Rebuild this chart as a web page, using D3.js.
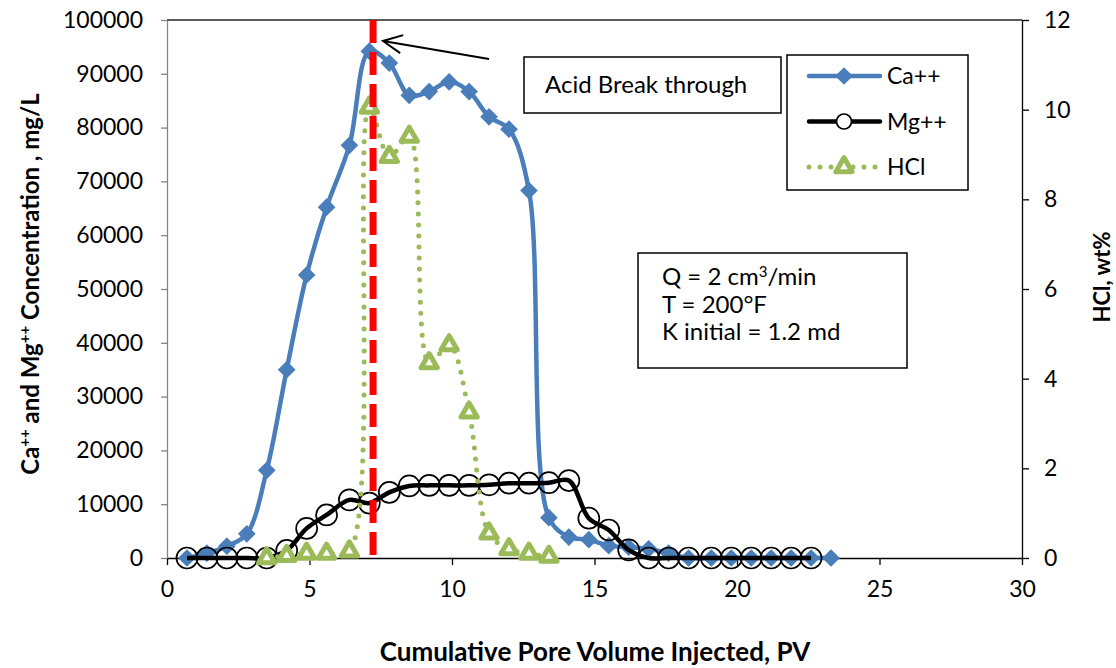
<!DOCTYPE html>
<html>
<head>
    <meta charset="utf-8" />
    <title>acid breakthrough</title>
    <script src="https://d3js.org/d3.v7.min.js"></script>
    <style>
        body { margin: 0; background: #fff; }
        text { font-family: Lato, "Open Sans", sans-serif; fill: #000; }
    </style>
</head>
<body>
    <svg class="chart"></svg>
    <script>
        // values
        var pv = [0.7, 1.4, 2.1, 2.8, 3.5, 4.2, 4.9, 5.6, 6.4, 7.1, 7.8, 8.5, 9.2, 9.9, 10.6, 11.3, 12.0,
                  12.7, 13.4, 14.1, 14.8, 15.5, 16.2, 16.9, 17.6, 18.3, 19.1, 19.8, 20.5, 21.2, 21.9, 22.6, 23.3];
        var ca = [0, 900, 2200, 4500, 16300, 35000, 52600, 65200, 76700, 94200, 92000, 86000, 86700, 88500,
                  86700, 82000, 79700, 68300, 7500, 3900, 3400, 2300, 2000, 1700, 900, 0, 0, 0, 0, 0, 0, 0, 0];
        var mg = [0, 0, 0, 0, 0, 1400, 5500, 8000, 10800, 10200, 12200, 13400, 13500, 13500, 13500, 13600,
                  13900, 13900, 14000, 14400, 7400, 5200, 1500, 0, 0, 0, 0, 0, 0, 0, 0, 0];
        var hclPv = [3.5, 4.2, 4.9, 5.6, 6.4, 7.1, 7.8, 8.5, 9.2, 9.9, 10.6, 11.3, 12.0, 12.7, 13.4];
        var hcl = [0, 0.05, 0.1, 0.1, 0.15, 10.05, 8.95, 9.4, 4.35, 4.75, 3.25, 0.55, 0.2, 0.1, 0.03];
        var breakthroughPv = 7.23;

        var xTicks = [0, 5, 10, 15, 20, 25, 30];
        var yLeftTicks = [0, 10000, 20000, 30000, 40000, 50000, 60000, 70000, 80000, 90000, 100000];
        var yRightTicks = [0, 2, 4, 6, 8, 10, 12];
        var seriesNames = ["Ca++", "Mg++", "HCl"];
        var infoLines = ["Q = 2 cm", "T = 200°F", "K initial = 1.2 md"];

        var svgWidth = 1116, svgHeight = 668;
        var margin = {top: 20, right: 94, bottom: 110, left: 167};
        var width = svgWidth - margin.left - margin.right;
        var height = svgHeight - margin.top - margin.bottom;

        var blue = "#4A7EBB", green = "#9BBB59";

        var svg = d3.select(".chart")
            .attr("width", svgWidth)
            .attr("height", svgHeight);

        var chart = svg.append("g")
            .attr("transform", "translate(" + margin.left + "," + margin.top + ")");

        var xScale = d3.scaleLinear().domain([0, 30]).range([0, width]);
        var yLeft = d3.scaleLinear().domain([0, 100000]).range([height, 0]);
        var yRight = d3.scaleLinear().domain([0, 12]).range([height, 0]);

        // top border
        chart.append("line")
            .attr("x1", 0).attr("x2", width).attr("y1", 0).attr("y2", 0)
            .attr("stroke", "#222").attr("stroke-width", 1.3);

        var xAxis = chart.append("g")
            .attr("transform", "translate(0," + height + ")")
            .call(d3.axisBottom(xScale).tickValues(xTicks).tickSize(7).tickPadding(16).tickSizeOuter(0));
        xAxis.selectAll("text").style("font-size", "23px");
        xAxis.selectAll("line, path").attr("stroke", "#000").attr("stroke-width", 1.3);

        var leftAxis = chart.append("g")
            .call(d3.axisLeft(yLeft).tickValues(yLeftTicks).tickSize(6).tickPadding(18).tickSizeOuter(0)
                .tickFormat(d3.format("d")));
        leftAxis.selectAll("text").style("font-size", "23px");
        leftAxis.selectAll("line, path").attr("stroke", "#868686").attr("stroke-width", 1.3);

        var rightAxis = chart.append("g")
            .attr("transform", "translate(" + width + ",0)")
            .call(d3.axisRight(yRight).tickValues(yRightTicks).tickSize(7).tickPadding(15).tickSizeOuter(0));
        rightAxis.selectAll("text").style("font-size", "23px");
        rightAxis.selectAll("line, path").attr("stroke", "#000").attr("stroke-width", 1.3);

        var curve = d3.curveCatmullRom.alpha(0.5);

        var caData = pv.map((p, i) => ({x: p, y: ca[i]}));
        var mgData = mg.map((v, i) => ({x: pv[i], y: v}));
        var hclData = hclPv.map((p, i) => ({x: p, y: hcl[i]}));

        var lineLeft = d3.line().x(d => xScale(d.x)).y(d => yLeft(d.y)).curve(curve);
        var lineRight = d3.line().x(d => xScale(d.x)).y(d => yRight(d.y)).curve(curve);

        var diamond = d3.symbol().type(d3.symbolDiamond2).size(200);
        var triangle = d3.symbol().type(d3.symbolTriangle2).size(190);

        // Ca++
        chart.append("path").datum(caData)
            .attr("d", lineLeft).attr("fill", "none")
            .attr("stroke", blue).attr("stroke-width", 4.5);
        chart.selectAll(".ca").data(caData).enter().append("path")
            .attr("class", "ca")
            .attr("transform", d => "translate(" + xScale(d.x) + "," + yLeft(d.y) + ")")
            .attr("d", diamond).attr("fill", blue);

        // Mg++
        chart.append("path").datum(mgData)
            .attr("d", lineLeft).attr("fill", "none")
            .attr("stroke", "#000").attr("stroke-width", 4.5);
        chart.selectAll(".mg").data(mgData).enter().append("circle")
            .attr("class", "mg")
            .attr("cx", d => xScale(d.x)).attr("cy", d => yLeft(d.y)).attr("r", 10.5)
            .attr("fill", "none").attr("stroke", "#000").attr("stroke-width", 1.7);

        // HCl
        chart.append("path").datum(hclData)
            .attr("d", lineRight).attr("fill", "none")
            .attr("stroke", green).attr("stroke-width", 5)
            .attr("stroke-linecap", "round").attr("stroke-dasharray", "0 11");
        chart.selectAll(".hcl").data(hclData).enter().append("path")
            .attr("class", "hcl")
            .attr("transform", d => "translate(" + xScale(d.x) + "," + yRight(d.y) + ")")
            .attr("d", triangle).attr("fill", "#fff")
            .attr("stroke", green).attr("stroke-width", 5).attr("stroke-linejoin", "round");

        // acid breakthrough line
        chart.append("line")
            .attr("x1", xScale(breakthroughPv)).attr("x2", xScale(breakthroughPv))
            .attr("y1", 0).attr("y2", height)
            .attr("stroke", "#FF0000").attr("stroke-width", 7).attr("stroke-dasharray", "23 9");

        // arrow
        var tip = [xScale(7.58), yLeft(96100)], tail = [xScale(11.3), yLeft(92750)];
        var ang = Math.atan2(tail[1] - tip[1], tail[0] - tip[0]);
        var headLen = 21, spread = 0.45;
        chart.append("path")
            .attr("d", "M" + tail + "L" + tip +
                "M" + [tip[0] + headLen * Math.cos(ang - spread), tip[1] + headLen * Math.sin(ang - spread)] +
                "L" + tip +
                "L" + [tip[0] + headLen * Math.cos(ang + spread), tip[1] + headLen * Math.sin(ang + spread)])
            .attr("fill", "none").attr("stroke", "#000").attr("stroke-width", 2);

        // annotation box
        var note = svg.append("g").attr("transform", "translate(524,57)");
        note.append("rect").attr("width", 257).attr("height", 56)
            .attr("fill", "#fff").attr("stroke", "#000").attr("stroke-width", 1.5);
        note.append("text").attr("x", 21).attr("y", 36).style("font-size", "24px").text("Acid Break through");

        // legend
        var legend = svg.append("g").attr("transform", "translate(787,55)");
        legend.append("rect").attr("width", 181).attr("height", 135)
            .attr("fill", "#fff").attr("stroke", "#000").attr("stroke-width", 1.5);
        var rows = legend.selectAll(".row").data(seriesNames).enter().append("g")
            .attr("transform", (d, i) => "translate(0," + (21 + i * 45.5) + ")");
        rows.append("line").attr("x1", 22).attr("x2", 93)
            .attr("stroke", (d, i) => [blue, "#000", green][i])
            .attr("stroke-width", (d, i) => i == 2 ? 5 : 4.5)
            .attr("stroke-linecap", "round")
            .attr("stroke-dasharray", (d, i) => i == 2 ? "0 11" : null);
        rows.filter((d, i) => i == 0).append("path").attr("d", diamond)
            .attr("transform", "translate(57,0)").attr("fill", blue);
        rows.filter((d, i) => i == 1).append("circle").attr("cx", 57).attr("r", 7.5)
            .attr("fill", "#fff").attr("stroke", "#000").attr("stroke-width", 1.7);
        rows.filter((d, i) => i == 2).append("path").attr("d", triangle)
            .attr("transform", "translate(57,0)").attr("fill", "#fff")
            .attr("stroke", green).attr("stroke-width", 5).attr("stroke-linejoin", "round");
        rows.append("text").attr("x", 100).attr("y", 8).style("font-size", "23px").text(d => d);

        // conditions box
        var info = svg.append("g").attr("transform", "translate(638,253)");
        info.append("rect").attr("width", 269).attr("height", 115)
            .attr("fill", "#fff").attr("stroke", "#000").attr("stroke-width", 1.5);
        var infoText = info.selectAll(".info").data(infoLines).enter().append("text")
            .attr("x", 24).attr("y", (d, i) => 32 + i * 27.5)
            .style("font-size", "24px").text(d => d);
        infoText.filter((d, i) => i == 0).append("tspan").attr("dy", -8).style("font-size", "15px").text("3");
        infoText.filter((d, i) => i == 0).append("tspan").attr("dy", 8).text("/min");

        // axis titles
        svg.append("text")
            .attr("x", 595).attr("y", 661)
            .attr("text-anchor", "middle")
            .style("font-size", "26px").style("font-weight", "bold")
            .text("Cumulative Pore Volume Injected, PV");

        var leftTitle = svg.append("text")
            .attr("transform", "translate(39,284) rotate(-90)")
            .attr("text-anchor", "middle")
            .style("font-size", "24px").style("font-weight", "bold");
        leftTitle.append("tspan").text("Ca");
        leftTitle.append("tspan").attr("dy", -9).style("font-size", "15px").text("++");
        leftTitle.append("tspan").attr("dy", 9).text(" and Mg");
        leftTitle.append("tspan").attr("dy", -9).style("font-size", "15px").text("++");
        leftTitle.append("tspan").attr("dy", 9).text(" Concentration , mg/L");

        svg.append("text")
            .attr("transform", "translate(1110,277) rotate(-90)")
            .attr("text-anchor", "middle")
            .style("font-size", "22px").style("font-weight", "bold")
            .text("HCl, wt%");
    </script>
</body>
</html>
